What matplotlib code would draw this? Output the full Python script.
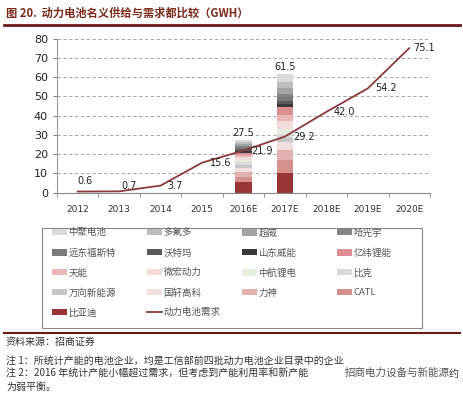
import numpy as np
import matplotlib
matplotlib.use("Agg")
import matplotlib.pyplot as plt
from matplotlib.patches import Patch, Rectangle
from matplotlib.lines import Line2D

plt.rcParams["font.family"] = ["DejaVu Sans", "Noto Sans CJK SC"]
cjk = ["Noto Sans CJK SC", "DejaVu Sans"]

# categories and demand line
years = ["2012", "2013", "2014", "2015", "2016E", "2017E", "2018E", "2019E", "2020E"]
demand = [0.6, 0.7, 3.7, 15.6, 21.9, 29.2, 42.0, 54.2, 75.1]

# stacked supply, bottom to top
companies = ["比亚迪", "CATL", "力神", "国轩高科", "万向新能源", "比克", "中航锂电", "微宏动力",
             "天能", "亿纬锂能", "山东威能", "沃特玛", "远东福斯特", "哈光宇", "超威", "多氟多", "中聚电池"]
supply_2016 = [5.5, 2.5, 2.5, 2.5, 1.5, 1.5, 1.0, 1.5, 1.0, 1.0, 1.0, 1.0, 1.0, 1.0, 1.0, 0.8, 1.2]
supply_2017 = [10.0, 7.0, 5.0, 4.5, 2.0, 2.0, 2.5, 4.0, 3.5, 4.0, 1.5, 1.5, 2.0, 2.0, 3.0, 3.0, 4.0]
colors = ["#9b3535", "#d4918d", "#e3b1b0", "#f1dede", "#c6c6c6", "#dadada", "#e8eede", "#f1dcdc",
          "#e9b8b6", "#dc8e92", "#3a3a3a", "#5a5a5a", "#7a7a7a", "#858585", "#a3a3a3", "#bdbdbd", "#dadada"]
totals = ["27.5", "61.5"]
line_color = "#8b3a3a"

fig = plt.figure(figsize=(4.64, 3.96), dpi=100)
W, H = 464, 396

# header
fig.text(6 / W, 1 - 13 / H, "图 20.  动力电池名义供给与需求都比较（GWH）", fontsize=8.1,
         color="#7a2a1a", fontweight="bold", va="center", family=cjk)
fig.add_artist(Line2D([4 / W, 460 / W], [1 - 25 / H, 1 - 25 / H], color="#6b1a1a", lw=2))

ax = fig.add_axes([57 / W, 1 - 192.7 / H, 373 / W, 154 / H])
x = np.arange(len(years))

bw = 0.39
bottom16 = 0.0
bottom17 = 0.0
for name, v16, v17, c in zip(companies, supply_2016, supply_2017, colors):
    ax.bar(4, v16, bw, bottom=bottom16, color=c, zorder=2)
    ax.bar(5, v17, bw, bottom=bottom17, color=c, zorder=2)
    bottom16 += v16
    bottom17 += v17
ax.text(4, bottom16 + 1.0, totals[0], ha="center", va="bottom", fontsize=7, color="#222222")
ax.text(5, bottom17 + 1.0, totals[1], ha="center", va="bottom", fontsize=7, color="#222222")

ax.plot(x, demand, color=line_color, lw=1.3, zorder=3)
# label offsets (in category / value units) from each point
offsets = [(0.0, 5.4), (0.05, 2.8), (0.16, -0.2), (0.18, -0.2), (0.19, -0.2),
           (0.21, -0.1), (0.17, 0.0), (0.18, 0.0), (0.1, 0.0)]
for xi, v, (dx, dy) in zip(x, demand, offsets):
    ax.text(xi + dx, v + dy, f"{v:.1f}", ha="left", va="center",
            fontsize=7, color="#222222", zorder=4)

ax.set_xlim(-0.5, len(years) - 0.5)
ax.set_ylim(0, 80)
ax.set_yticks(range(0, 81, 10))
ax.set_xticks(x)
ax.set_xticklabels(years)
ax.set_xticks(np.arange(-0.5, len(years), 1), minor=True)
ax.tick_params(axis="x", which="major", length=0, pad=9, labelsize=6.5, labelcolor="#333333")
ax.tick_params(axis="x", which="minor", length=3, color="#888888", direction="out")
ax.tick_params(axis="y", length=3, color="#888888", labelsize=8, labelcolor="#222222")
ax.grid(axis="y", color="#999999", linestyle=(0, (4, 3)), lw=0.6, zorder=0)
for s in ["top", "right"]:
    ax.spines[s].set_visible(False)
ax.spines["left"].set_color("#999999")
ax.spines["bottom"].set_color("#888888")

# legend: frame plus one frameless legend per column
fig.add_artist(Rectangle((42 / W, 1 - 328 / H), 380 / W, 100 / H, transform=fig.transFigure,
                         fill=False, edgecolor="#888888", lw=0.8))
h = {n: Patch(facecolor=c, edgecolor="none") for n, c in zip(companies, colors)}
h["动力电池需求"] = Line2D([], [], color=line_color, lw=1.3)
columns = [["中聚电池", "远东福斯特", "天能", "万向新能源", "比亚迪"],
           ["多氟多", "沃特玛", "微宏动力", "国轩高科", "动力电池需求"],
           ["超威", "山东威能", "中航锂电", "力神"],
           ["哈光宇", "亿纬锂能", "比克", "CATL"]]
col_x = [52, 147, 242, 337]
for names, cx in zip(columns, col_x):
    leg = fig.legend([h[n] for n in names], names, loc="upper left",
                     bbox_to_anchor=(cx / W, 1 - 228.5 / H), borderaxespad=0, borderpad=0,
                     frameon=False, handlelength=1.6, handleheight=0.64, handletextpad=0.15,
                     labelspacing=1.13, prop={"family": cjk, "size": 6.8})
    for t in leg.get_texts():
        t.set_color("#555555")

# footer
fig.add_artist(Line2D([4 / W, 460 / W], [1 - 333 / H, 1 - 333 / H], color="#6b1a1a", lw=1.5))
fig.text(6 / W, 1 - 342 / H, "资料来源：招商证券", fontsize=7.2, color="#333333", va="center", family=cjk)
fig.text(6 / W, 1 - 361 / H, "注 1：所统计产能的电池企业，均是工信部前四批动力电池企业目录中的企业",
         fontsize=7.2, color="#333333", va="center", family=cjk)
fig.text(6 / W, 1 - 374 / H, "注 2：2016 年统计产能小幅超过需求，但考虑到产能利用率和新产能",
         fontsize=7.2, color="#333333", va="center", family=cjk)
fig.text(6 / W, 1 - 387 / H, "为弱平衡。", fontsize=7.2, color="#333333", va="center", family=cjk)
fig.text(345 / W, 1 - 373 / H, "招商电力设备与新能源", fontsize=7.6, color="#555555",
         va="center", family=cjk)
fig.text(449 / W, 1 - 374 / H, "约", fontsize=7.2, color="#333333", va="center", family=cjk)

fig.savefig("out.png", dpi=100)
